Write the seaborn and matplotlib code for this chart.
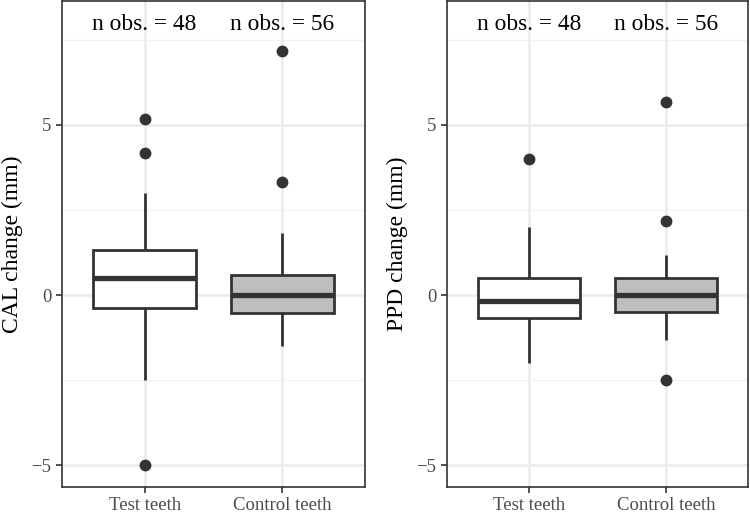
import numpy as np
import pandas as pd
import matplotlib
matplotlib.use("Agg")
import matplotlib.pyplot as plt
import seaborn as sns

groups = ["Test teeth", "Control teeth"]
n_obs = [48, 56]

# box summaries: (whisker low, q1, median, q3, whisker high)
cal_stats = {"Test teeth": [-2.5, -0.37, 0.5, 1.33, 3.0],
             "Control teeth": [-1.5, -0.52, 0.0, 0.58, 1.83]}
cal_outliers = {"Test teeth": [-5.0, 4.17, 5.17],
                "Control teeth": [3.33, 7.17]}

ppd_stats = {"Test teeth": [-2.0, -0.67, -0.17, 0.5, 2.0],
             "Control teeth": [-1.33, -0.5, 0.0, 0.5, 1.17]}
ppd_outliers = {"Test teeth": [4.0],
                "Control teeth": [-2.5, 2.17, 5.67]}


def build_table(stats, outliers, label):
    # rebuild a value list whose quartiles/whiskers match the read summary
    rows = []
    for g in groups:
        lo, q1, med, q3, hi = stats[g]
        below = sorted([v for v in outliers[g] if v < q1]) + [lo]
        above = [hi] + sorted([v for v in outliers[g] if v > q3])
        k = max(len(below), len(above))
        vals = below + [q1] * (k - len(below)) + [q1] * k + [med] \
            + [q3] * k + [q3] * (k - len(above)) + above
        rows += [(g, v) for v in vals]
    return pd.DataFrame(rows, columns=["group", label])


cal = build_table(cal_stats, cal_outliers, "CAL")
ppd = build_table(ppd_stats, ppd_outliers, "PPD")

sns.set_theme(style="white")
plt.rcParams['font.family'] = ['Liberation Serif', 'DejaVu Serif']

fig = plt.figure(figsize=(7.5, 5.17), dpi=100)
ax1 = fig.add_axes([62/750, 30/517, 303/750, 486/517])
ax2 = fig.add_axes([447/750, 30/517, 301/750, 486/517])

edge = "#333333"
for ax, df, col, ylab in [(ax1, cal, "CAL", "CAL change (mm)"),
                          (ax2, ppd, "PPD", "PPD change (mm)")]:
    for y in [-2.5, 2.5, 7.5]:
        ax.axhline(y, color="#F2F2F2", lw=0.9, zorder=0)
    for y in [-5, 0, 5]:
        ax.axhline(y, color="#EBEBEB", lw=1.8, zorder=0)
    for x in [0, 1]:
        ax.axvline(x, color="#EBEBEB", lw=1.8, zorder=0)
    sns.boxplot(data=df, x="group", y=col, order=groups, hue="group",
                palette={"Test teeth": "white", "Control teeth": "#BEBEBE"},
                width=0.75, whis=1.5, linewidth=2.0, linecolor=edge,
                showcaps=False,
                medianprops={"linewidth": 3.8, "color": edge},
                flierprops={"marker": "o", "markersize": 7.5,
                            "markerfacecolor": edge, "markeredgecolor": edge},
                legend=False, ax=ax, zorder=2)
    for i, n in enumerate(n_obs):
        ax.text(i, 7.95, f"n obs. = {n}", ha="center", va="center",
                fontsize=16.8, color="black")
    ax.set_xlim(-0.6, 1.6)
    ax.set_ylim(-5.64, 8.64)
    ax.set_yticks([-5, 0, 5])
    ax.set_yticklabels(["\u22125", "0", "5"])
    ax.set_xlabel("")
    ax.set_ylabel(ylab, fontsize=17, color="black", labelpad=6)
    ax.tick_params(axis="both", colors=edge, length=4, width=1.2,
                   labelsize=13.5, labelcolor="#4D4D4D", left=True, bottom=True)
    for s in ax.spines.values():
        s.set_color(edge)
        s.set_linewidth(1.2)
        s.set_visible(True)

fig.savefig("out.png", dpi=100)
